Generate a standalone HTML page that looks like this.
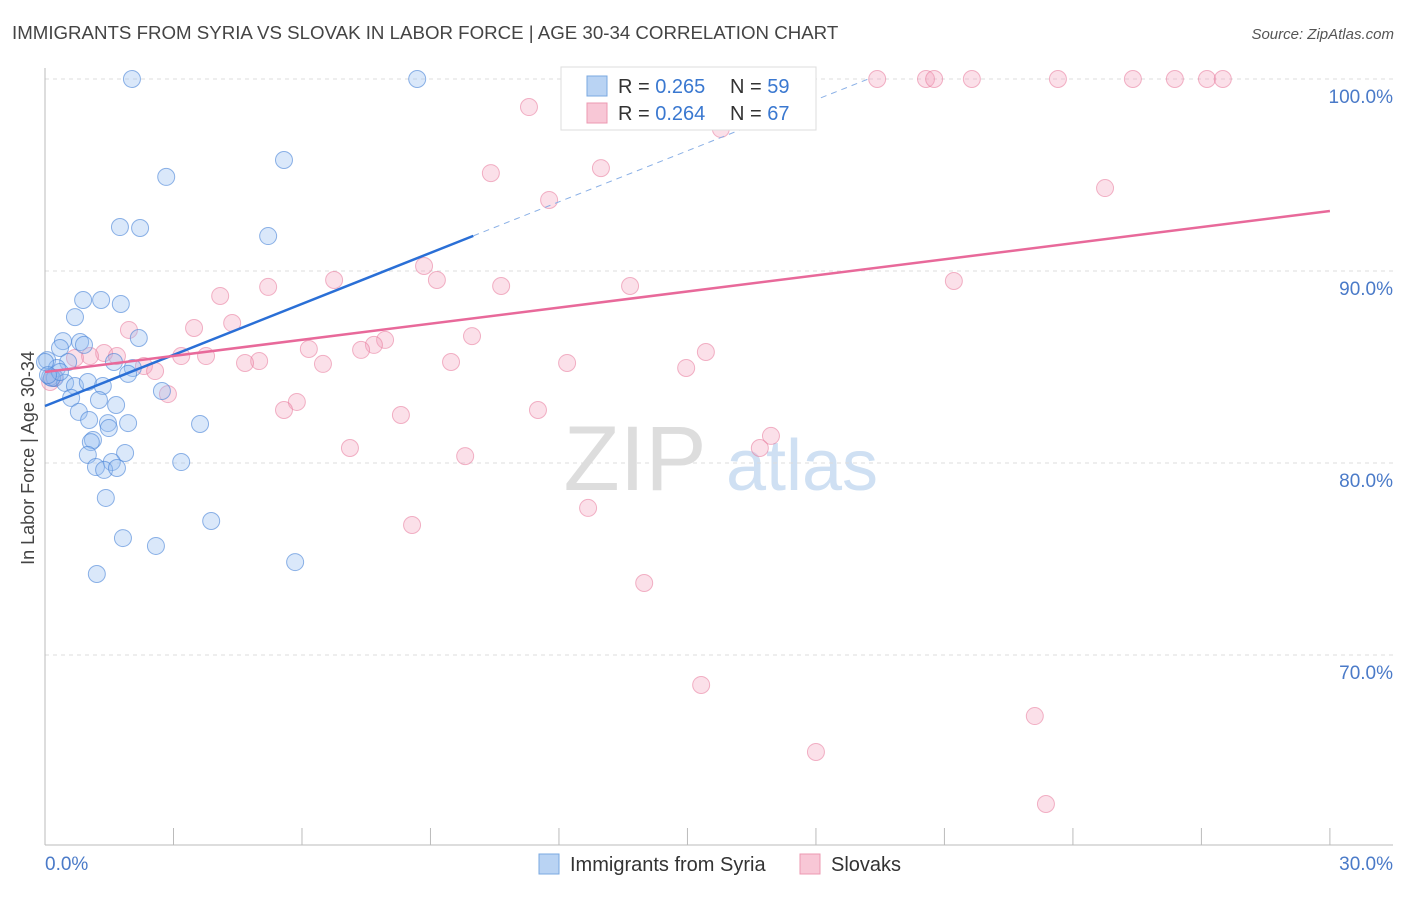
<!DOCTYPE html>
<html><head><meta charset="utf-8">
<style>
body{margin:0;background:#fff;font-family:"Liberation Sans",sans-serif;}
svg text{font-family:"Liberation Sans",sans-serif;}
</style></head>
<body>
<svg id="chart" width="1406" height="892">
<text x="12" y="39" font-size="18.7" fill="#444">IMMIGRANTS FROM SYRIA VS SLOVAK IN LABOR FORCE | AGE 30-34 CORRELATION CHART</text>
<text x="1394" y="39" font-size="15" fill="#555" font-style="italic" text-anchor="end">Source: ZipAtlas.com</text>
<text x="34" y="458" font-size="18" fill="#444" text-anchor="middle" transform="rotate(-90 34 458)">In Labor Force | Age 30-34</text>
<g>
<text x="635" y="490" font-size="92" fill="#ddd" font-family="Liberation Serif" text-anchor="middle">ZIP</text>
<text x="802" y="490" font-size="72" fill="#cfe0f3" text-anchor="middle">atlas</text>
</g>
<g id="grid"></g><g id="axes"></g><g id="points"></g><g id="lines"></g>
<g>
<rect x="561" y="67" width="255" height="63" fill="#fff" stroke="#ddd"/>
<rect x="587" y="76" width="20" height="20" fill="#b9d3f3" stroke="#7aa8e0"/>
<text x="618" y="93" font-size="20" fill="#333">R = <tspan fill="#3a78d0">0.265</tspan></text>
<text x="730" y="93" font-size="20" fill="#333">N = <tspan fill="#3a78d0">59</tspan></text>
<rect x="587" y="103" width="20" height="20" fill="#f8c7d6" stroke="#ec98b2"/>
<text x="618" y="120" font-size="20" fill="#333">R = <tspan fill="#3a78d0">0.264</tspan></text>
<text x="730" y="120" font-size="20" fill="#333">N = <tspan fill="#3a78d0">67</tspan></text>
</g>
<g>
<rect x="539" y="854" width="20" height="20" fill="#b9d3f3" stroke="#7aa8e0"/>
<text x="570" y="871" font-size="20" fill="#333">Immigrants from Syria</text>
<rect x="800" y="854" width="20" height="20" fill="#f8c7d6" stroke="#ec98b2"/>
<text x="831" y="871" font-size="20" fill="#333">Slovaks</text>
</g>
</svg>
<script>
const yTicks=[100,90,80,70];
const yTickLabels=["100.0%","90.0%","80.0%","70.0%"];
const xTickVals=[0,3,6,9,12,15,18,21,24,27,30];
const syriaPx=[[132,79],[417,79],[166,177],[284,160],[120,227],[140,228],[268,236],[83,300],[101,300],[121,304],[75,317],[139,338],[63,341],[80,342],[84,345],[60,348],[47,360],[68,362],[114,362],[57,368],[133,368],[128,374],[50,377],[55,378],[65,383],[75,386],[103,386],[88,382],[162,391],[71,398],[99,400],[116,405],[79,412],[89,420],[108,423],[109,428],[128,423],[200,424],[93,440],[91,442],[88,455],[125,453],[112,462],[96,467],[104,470],[117,468],[181,462],[106,498],[211,521],[123,538],[156,546],[295,562],[97,574],[52,378],[60,372],[45,362],[48,375]];
const slovakPx=[[578,79],[730,79],[877,79],[926,79],[934,79],[972,79],[1058,79],[1133,79],[1175,79],[1207,79],[1223,79],[529,107],[721,129],[491,173],[601,168],[549,200],[1105,188],[424,266],[334,280],[437,280],[268,287],[501,286],[630,286],[954,281],[220,296],[232,323],[194,328],[129,330],[472,336],[385,340],[374,345],[309,349],[361,350],[706,352],[104,353],[90,356],[117,356],[181,356],[206,356],[75,358],[259,361],[245,363],[323,364],[451,362],[567,363],[686,368],[144,366],[155,371],[54,378],[50,382],[168,394],[297,402],[284,410],[538,410],[401,415],[771,436],[760,448],[350,448],[465,456],[588,508],[412,525],[644,583],[701,685],[1035,716],[816,752],[1046,804]];
const syriaX=syriaPx.map(p=>+((p[0]-45)/42.83).toFixed(2));
const syriaY=syriaPx.map(p=>+(100-(p[1]-79)/19.2).toFixed(2));
const slovakX=slovakPx.map(p=>+((p[0]-45)/42.83).toFixed(2));
const slovakY=slovakPx.map(p=>+(100-(p[1]-79)/19.2).toFixed(2));
const syriaFit=[82.97,0.886];
const slovakFit=[84.74,0.2795];

const X=v=>45+v*42.83, Y=v=>79+(100-v)*19.2;
const NS="http://www.w3.org/2000/svg";
function mk(tag,attrs,parent){const e=document.createElementNS(NS,tag);for(const k in attrs)e.setAttribute(k,attrs[k]);parent.appendChild(e);return e;}
const grid=document.getElementById('grid'),axes=document.getElementById('axes'),pts=document.getElementById('points'),lines=document.getElementById('lines');
yTicks.forEach((t,i)=>{
 const l=mk('line',{x1:45,x2:1393,y1:Y(t),y2:Y(t),stroke:'#ddd','stroke-dasharray':'4,4'},grid);
 
 
 const tx=mk('text',{x:1393,y:Y(t)+24,'font-size':19,fill:'#4a7ac8','text-anchor':'end'},axes);
 tx.textContent=yTickLabels[i];
 
 
});
const ax=mk('line',{x1:45,x2:45,y1:68,y2:845,stroke:'#bbb'},axes);


const bx=mk('line',{x1:45,x2:1393,y1:845,y2:845,stroke:'#bbb'},axes);


xTickVals.forEach(v=>{
 const t=mk('line',{x1:X(v),x2:X(v),y1:828,y2:845,stroke:'#bbb'},axes);
 
 
});
[[0,"0.0%",'start',45],[30,"30.0%",'end',1393]].forEach(a=>{
 const t=mk('text',{x:a[3],y:870,'font-size':19,fill:'#4a7ac8','text-anchor':a[2]},axes);
 t.textContent=a[1];
 
 
});
slovakX.forEach((x,i)=>{
 const c=mk('circle',{cx:X(x),cy:Y(slovakY[i]),r:8.5,fill:'rgba(244,160,188,0.33)',stroke:'rgba(232,120,155,0.55)','stroke-width':1},pts);
 
 
});
syriaX.forEach((x,i)=>{
 const c=mk('circle',{cx:X(x),cy:Y(syriaY[i]),r:8.5,fill:'rgba(150,190,240,0.35)',stroke:'rgba(70,130,215,0.6)','stroke-width':1},pts);
 
 
});
const f=(fit,x)=>fit[0]+fit[1]*x;
const bl=mk('line',{x1:X(0),y1:Y(f(syriaFit,0)),x2:X(10),y2:Y(f(syriaFit,10)),stroke:'#2a6fd6','stroke-width':2.5},lines);


const xe=(100-syriaFit[0])/syriaFit[1];
const bd=mk('line',{x1:X(10),y1:Y(f(syriaFit,10)),x2:X(xe),y2:Y(100),stroke:'#8ab0e6','stroke-width':1,'stroke-dasharray':'6,5'},lines);


const pl=mk('line',{x1:X(0),y1:Y(f(slovakFit,0)),x2:X(30),y2:Y(f(slovakFit,30)),stroke:'#e8699a','stroke-width':2.5},lines);


</script>
</body></html>
